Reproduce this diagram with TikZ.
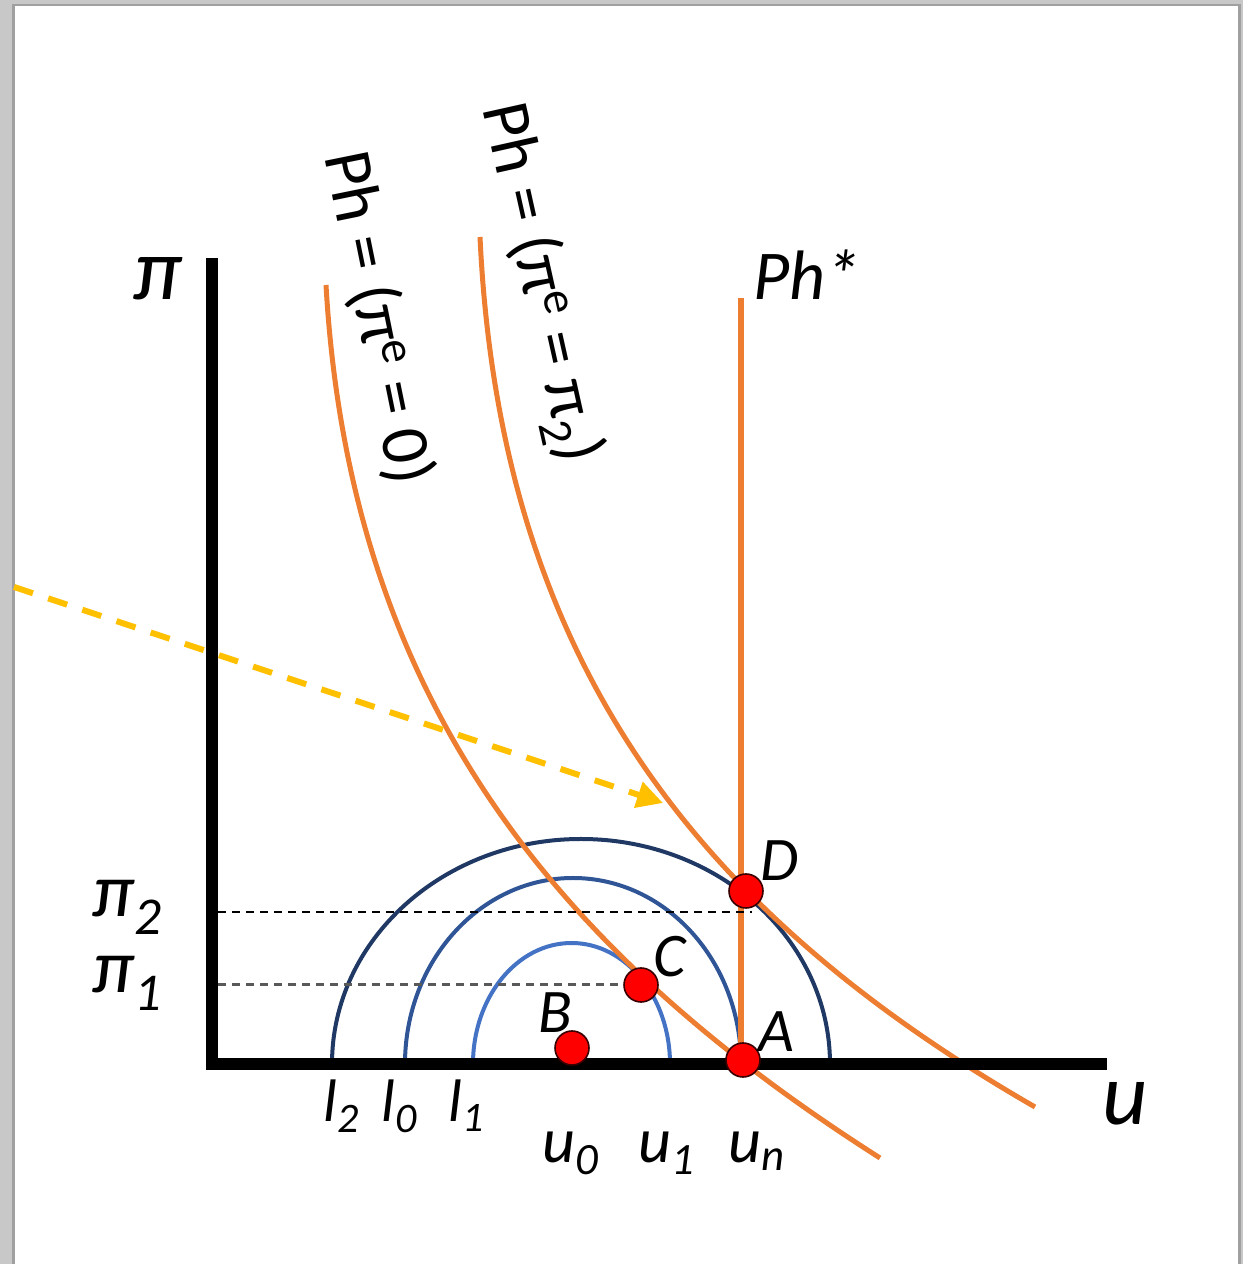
\documentclass[tikz,border=0pt]{standalone}
\usepackage{fontspec}
\setmainfont{Carlito}
\usetikzlibrary{arrows.meta}
\definecolor{phframe} {HTML}{C8C8C8}
\definecolor{phedge}  {HTML}{A0A0A0}
\definecolor{phorange}{HTML}{ED7D31}
\definecolor{phnavy}  {HTML}{203864}
\definecolor{phblue}  {HTML}{2F5597}
\definecolor{phsky}   {HTML}{4472C4}
\definecolor{phgold}  {HTML}{FFC000}
\definecolor{phred}   {HTML}{FF0000}
\definecolor{phdark}  {HTML}{3A0000}
\tikzset{
  phaxis/.style={draw=black, line width=6pt},
  phcurve/.style={draw=phorange, line width=2.5pt},
  pharc/.style={line width=2pt},
  phguide/.style={line width=1pt, dash pattern=on 4pt off 3pt},
  phdot/.style={circle, fill=phred, draw=phdark, line width=0.8pt,
                minimum size=17pt, inner sep=0pt},
  phlabel/.style={inner sep=0pt, font=\fontsize{31}{31}\selectfont\itshape},
  phbig/.style={inner sep=0pt, font=\fontsize{44}{44}\selectfont\itshape},
  phrot/.style={inner sep=0pt, font=\fontsize{34}{34}\selectfont},
  phshift/.style={-{Triangle[length=13pt,width=13pt]}, draw=phgold,
                  line width=3pt, dash pattern=on 10pt off 8pt},
}

\begin{document}
\begin{tikzpicture}[x=0.5pt,y=0.5pt]
  % page
  \fill[phframe] (0,0) rectangle (1243,1264);
  \fill[phedge] (12,0) rectangle (1241,1260);
  \fill[white] (15,0) rectangle (1238,1258);
  \useasboundingbox (0,0) rectangle (1243,1264);

  \foreach \n/\x/\y in {A/743/204, B/572/216, C/641/279, D/746/373}
    \coordinate (\n) at (\x,\y);

  % loss arcs
  \draw[pharc,phnavy] (332,200) arc[start angle=180,end angle=0,x radius=249,y radius=225];
  \draw[pharc,phblue] (405,200) arc[start angle=180,end angle=0,x radius=168,y radius=186];
  \draw[pharc,phsky]  (473,200) arc[start angle=180,end angle=0,x radius=98.5,y radius=121];

  % Phillips curves
  \draw[phcurve] (326,979) .. controls (350,560) and (560,310) .. (880,106);
  \draw[phcurve] (480,1027) .. controls (500,600) and (700,350) .. (1035,157);
  \draw[phcurve, line width=3pt] (741,200) -- (741,966);

  \coordinate (pitwolevel) at (218,352);
  \coordinate (pionelevel) at (218,279);
  \draw[phguide] (pitwolevel) -- (pitwolevel -| 752,0);
  \draw[phguide, draw=black!65, line width=1.5pt] (pionelevel) -- (C);

  \coordinate (shiftfrom) at (14,677);
  \coordinate (shiftto) at (663,461);
  \draw[phshift] (shiftfrom) -- (shiftto);

  % axes
  \draw[phaxis] (212,1006) -- (212,194);
  \draw[phaxis] (206,200) -- (1107,200);

  \foreach \n in {A,B,C,D}
    \node[phdot] (pt\n) at (\n) {};

  \node[phlabel] (labA) at (776,232) {A};
  \node[phlabel] (labB) at (555,251) {B};
  \node[phlabel] (labC) at (670,307) {C};
  \node[phlabel] (labD) at (780,403) {D};

  \node[phbig, anchor=base] (piaxis) at (158,964) {π};
  \node[phbig, anchor=base] (uaxis) at (1125,139) {u};
  \node[phlabel, font=\fontsize{35}{35}\selectfont\itshape, anchor=base west]
    (phstar) at (753,964) {Ph*};

  \node[phlabel, font=\fontsize{38}{38}\selectfont\itshape, anchor=base west]
    (pitwo) at (92,347) {π\textsubscript{2}};
  \node[phlabel, font=\fontsize{38}{38}\selectfont\itshape, anchor=base west]
    (pione) at (92,271) {π\textsubscript{1}};

  \foreach \s/\x in {2/342, 0/400, 1/467}
    \node[phlabel, font=\fontsize{30}{30}\selectfont\itshape, anchor=base]
      (l\s) at (\x,142) {l\textsubscript{\s}};
  \foreach \s/\x in {0/571, 1/667, n/757}
    \node[phlabel, font=\fontsize{32}{32}\selectfont\itshape, anchor=base]
      (u\s) at (\x,101) {u\textsubscript{\s}};

  \node[phrot, rotate=-78.5] (phzero) at (378,946) {Ph = (π\textsuperscript{e} = 0)};
  \node[phrot, rotate=-77.4] (phtwo) at (540,981) {Ph = (π\textsuperscript{e} = π\textsubscript{2})};
\end{tikzpicture}
\end{document}
